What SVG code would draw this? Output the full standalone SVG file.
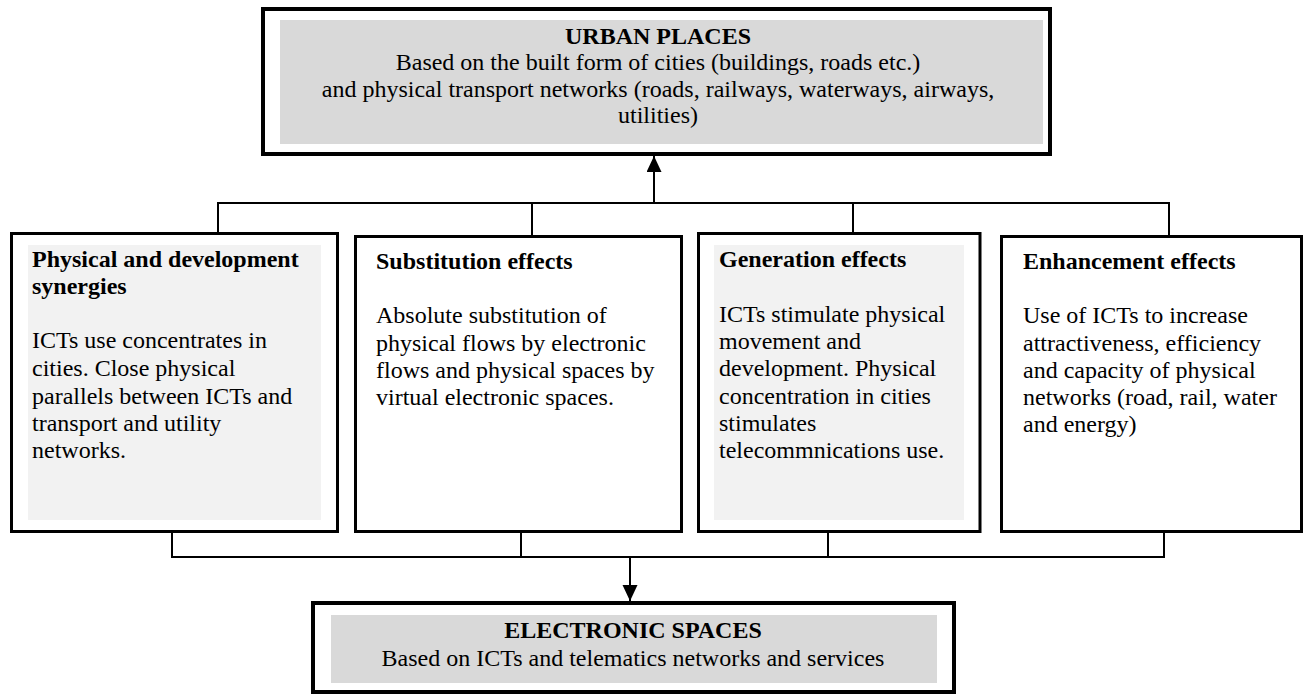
<svg xmlns="http://www.w3.org/2000/svg" width="1305" height="695" viewBox="0 0 1305 695">
  <defs>
    <marker id="arr" markerUnits="userSpaceOnUse" markerWidth="16" markerHeight="17" refX="16" refY="7.5" orient="auto">
      <path d="M0,0 L16,7.5 L0,15 Z" fill="#000"/>
    </marker>
  </defs>
  <style>
    .big { fill: #fff; stroke: #000; stroke-width: 4; }
    .box { fill: #fff; stroke: #000; stroke-width: 3; }
    .gray { fill: #d9d9d9; }
    .light { fill: #f2f2f2; }
    svg text, text.t { font-family: 'Liberation Serif', 'Times New Roman', serif !important; font-size: 24px; fill: #000; }
    .b { font-weight: bold; }
    .c { text-anchor: middle; }
    .conn { fill: none; stroke: #000; stroke-width: 2; }
  </style>
  <rect width="1305" height="695" fill="#fff"/>

  <g id="urban-places">
    <rect class="big" x="263" y="9" width="787" height="145"/>
    <rect class="gray" x="280" y="20" width="763" height="124"/>
    <text class="t b c" style="font-family: 'Liberation Serif', serif" x="658" y="44">URBAN PLACES</text>
    <text class="t c" style="font-family: 'Liberation Serif', serif" x="658" y="70">Based on the built form of cities (buildings, roads etc.)</text>
    <text class="t c" style="font-family: 'Liberation Serif', serif" x="658" y="97">and physical transport networks (roads, railways, waterways, airways,</text>
    <text class="t c" style="font-family: 'Liberation Serif', serif" x="658" y="123">utilities)</text>
  </g>

  <g id="physical-synergies">
    <rect class="box" x="11.5" y="233.5" width="326" height="298"/>
    <rect class="light" x="28" y="245" width="293" height="275"/>
    <text class="t b" style="font-family: 'Liberation Serif', serif" x="32" y="267">Physical and development</text>
    <text class="t b" style="font-family: 'Liberation Serif', serif" x="32" y="294">synergies</text>
    <text class="t" style="font-family: 'Liberation Serif', serif" x="32" y="348">ICTs use concentrates in</text>
    <text class="t" style="font-family: 'Liberation Serif', serif" x="32" y="376">cities. Close physical</text>
    <text class="t" style="font-family: 'Liberation Serif', serif" x="32" y="404">parallels between ICTs and</text>
    <text class="t" style="font-family: 'Liberation Serif', serif" x="32" y="431">transport and utility</text>
    <text class="t" style="font-family: 'Liberation Serif', serif" x="32" y="458">networks.</text>
  </g>

  <g id="substitution">
    <rect class="box" x="355.5" y="236.5" width="326" height="295"/>
    <text class="t b" style="font-family: 'Liberation Serif', serif" x="376" y="269">Substitution effects</text>
    <text class="t" style="font-family: 'Liberation Serif', serif" x="376" y="323">Absolute substitution of</text>
    <text class="t" style="font-family: 'Liberation Serif', serif" x="376" y="351">physical flows by electronic</text>
    <text class="t" style="font-family: 'Liberation Serif', serif" x="376" y="378">flows and physical spaces by</text>
    <text class="t" style="font-family: 'Liberation Serif', serif" x="376" y="405">virtual electronic spaces.</text>
  </g>

  <g id="generation">
    <rect class="box" x="698.5" y="233.5" width="281.5" height="298"/>
    <rect class="light" x="714" y="245" width="250" height="275"/>
    <text class="t b" style="font-family: 'Liberation Serif', serif" x="719" y="267">Generation effects</text>
    <text class="t" style="font-family: 'Liberation Serif', serif" x="719" y="322">ICTs stimulate physical</text>
    <text class="t" style="font-family: 'Liberation Serif', serif" x="719" y="349">movement and</text>
    <text class="t" style="font-family: 'Liberation Serif', serif" x="719" y="376">development. Physical</text>
    <text class="t" style="font-family: 'Liberation Serif', serif" x="719" y="404">concentration in cities</text>
    <text class="t" style="font-family: 'Liberation Serif', serif" x="719" y="431">stimulates</text>
    <text class="t" style="font-family: 'Liberation Serif', serif" x="719" y="458">telecommnications use.</text>
  </g>

  <g id="enhancement">
    <rect class="box" x="1001.5" y="236.5" width="300" height="295"/>
    <text class="t b" style="font-family: 'Liberation Serif', serif" x="1023" y="269">Enhancement effects</text>
    <text class="t" style="font-family: 'Liberation Serif', serif" x="1023" y="323">Use of ICTs to increase</text>
    <text class="t" style="font-family: 'Liberation Serif', serif" x="1023" y="351">attractiveness, efficiency</text>
    <text class="t" style="font-family: 'Liberation Serif', serif" x="1023" y="378">and capacity of physical</text>
    <text class="t" style="font-family: 'Liberation Serif', serif" x="1023" y="405">networks (road, rail, water</text>
    <text class="t" style="font-family: 'Liberation Serif', serif" x="1023" y="432">and energy)</text>
  </g>

  <g id="electronic-spaces">
    <rect class="big" x="313" y="603" width="641" height="89"/>
    <rect class="gray" x="331" y="615" width="606" height="68"/>
    <text class="t b c" style="font-family: 'Liberation Serif', serif" x="633" y="638">ELECTRONIC SPACES</text>
    <text class="t c" style="font-family: 'Liberation Serif', serif" x="633" y="666">Based on ICTs and telematics networks and services</text>
  </g>

  <g id="connectors">
    <path class="conn" d="M218,233 V203 H1169 V236"/>
    <path class="conn" d="M532,203 V236"/>
    <path class="conn" d="M853,203 V233"/>
    <path class="conn" d="M654,203 V156" marker-end="url(#arr)"/>
    <path class="conn" d="M172,532 V557 H1164 V532"/>
    <path class="conn" d="M521,532 V557"/>
    <path class="conn" d="M828,532 V557"/>
    <path class="conn" d="M630,557 V601" marker-end="url(#arr)"/>
  </g>
</svg>
